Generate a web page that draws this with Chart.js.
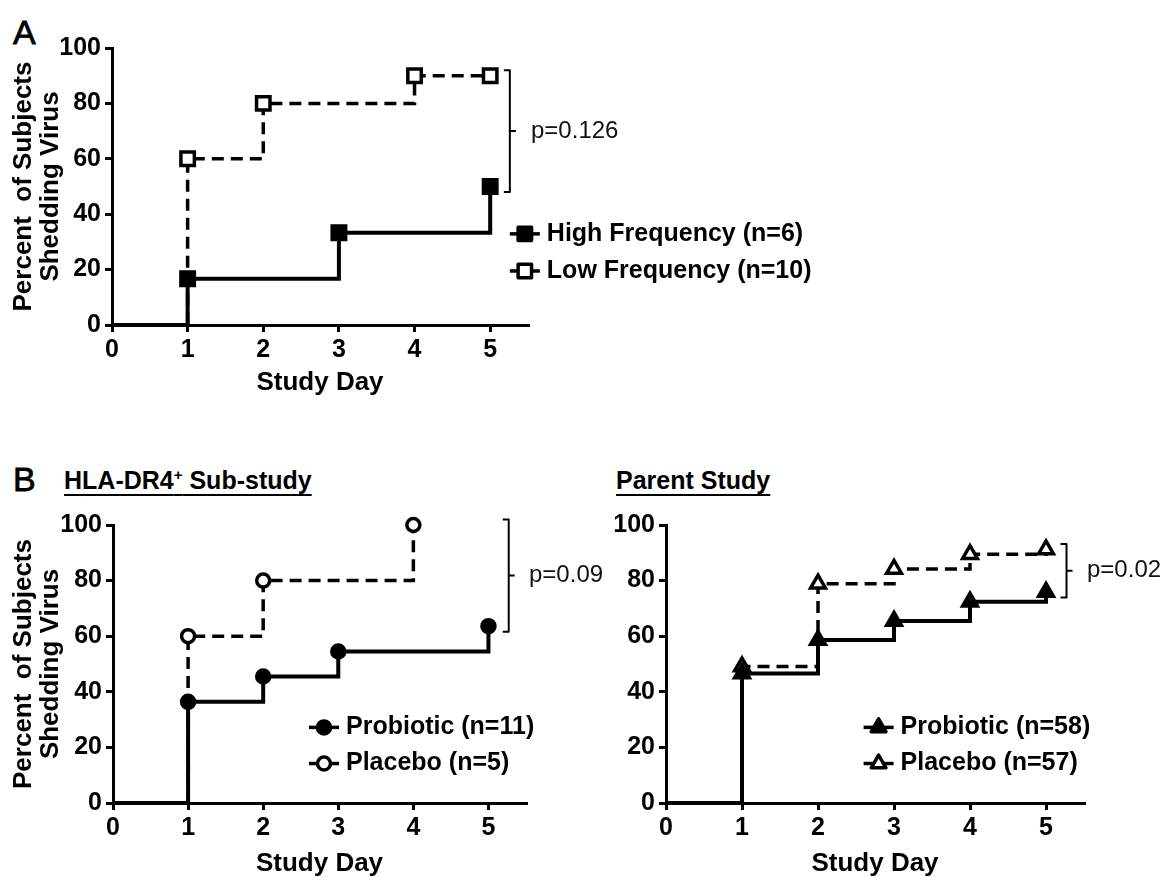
<!DOCTYPE html>
<html>
<head>
<meta charset="utf-8">
<script src="https://cdn.jsdelivr.net/npm/chart.js@4.4.1/dist/chart.umd.min.js"></script>
<style>
    body { margin: 0; background: #fff; width: 1162px; height: 877px; position: relative; overflow: hidden;
        font-family: 'Liberation Sans', Arial, sans-serif; color: #000; }
    canvas { position: absolute; }
    .tag { position: absolute; font-size: 34px; line-height: 1; -webkit-text-stroke: 0.8px #000; }
    .head { position: absolute; font-size: 25px; font-weight: bold; line-height: 1; white-space: nowrap;
        text-decoration: underline; text-decoration-thickness: 2px; text-underline-offset: 5px; }
    .head sup { font-size: 0.6em; line-height: 0; vertical-align: 0.6em; }
</style>
</head>
<body>
<div class="tag" style="left:13px;top:15px">A</div>
<div class="tag" style="left:13px;top:462px">B</div>
<div class="head" style="left:64px;top:468px">HLA-DR4<sup>+</sup> Sub-study</div>
<div class="head" style="left:616px;top:468px">Parent Study</div>

<canvas id="chart_a" width="840" height="420" style="left:0;top:0"></canvas>
<canvas id="chart_sub" width="620" height="437" style="left:0;top:440px"></canvas>
<canvas id="chart_parent" width="582" height="437" style="left:580px;top:440px"></canvas>

<script>
// tick labels
const dayTicks = [0, 1, 2, 3, 4, 5];
const yTitleLines = ['Percent  of Subjects', 'Shedding Virus'];

// Panel A
const aHighDays = [0, 1, 3, 5];
const aHighPct = [0, 16.7, 33.3, 50];
const aLowDays = [0, 1, 2, 4, 5];
const aLowPct = [0, 60, 80, 90, 90];

// Panel B - HLA-DR4+ sub-study
const subProDays = [0, 1, 2, 3, 5];
const subProPct = [0, 36.4, 45.5, 54.5, 63.6];
const subPlaDays = [0, 1, 2, 4];
const subPlaPct = [0, 60, 80, 100];

// Panel B - parent study
const parDays = [0, 1, 2, 3, 4, 5];
const parProPct = [0, 46.6, 58.6, 65.5, 72.4, 75.9];
const parPlaPct = [0, 49.1, 78.9, 84.2, 89.5, 91.2];

const pValues = ['p=0.126', 'p=0.09', 'p=0.02'];

const FONT = "'Liberation Sans', Arial, sans-serif";
Chart.defaults.font.family = FONT;
Chart.defaults.color = '#000';

const toPoints = (days, pct) => days.map((d, i) => ({x: d, y: pct[i]}));

const curve = (label, days, pct, filled, style, r) => ({
    label: label,
    data: toPoints(days, pct),
    stepped: 'before',
    borderColor: '#000',
    borderWidth: filled ? 4 : 3.5,
    borderDash: filled ? [] : [12, 7],
    borderJoinStyle: 'miter',
    pointStyle: style,
    pointRadius: ctx => (ctx.raw && ctx.raw.x === 0) ? 0 : r,
    pointBackgroundColor: filled ? '#000' : '#fff',
    pointBorderColor: '#000',
    pointBorderWidth: 3.5,
    fill: false,
    clip: false
});

const axes = (yWidth, xHeight, xTitlePad, withTitle) => {
    const tickFont = {size: 25, weight: 'bold'};
    const grid = {drawOnChartArea: false, tickLength: 7, lineWidth: 3, color: '#000'};
    const border = {color: '#000', width: 3};
    return {
        x: {
            type: 'linear', min: 0, max: 5.5,
            afterBuildTicks: s => { s.ticks = dayTicks.map(v => ({value: v})); },
            afterFit: s => { s.height = xHeight; },
            grid: grid, border: border,
            ticks: {font: tickFont, color: '#000', padding: 3, maxRotation: 0, autoSkip: false},
            title: {display: true, text: 'Study Day', color: '#000',
                font: {size: 26, weight: 'bold', lineHeight: 1}, padding: {top: 0, bottom: xTitlePad}}
        },
        y: {
            min: 0, max: 100,
            afterFit: s => { s.width = yWidth; },
            grid: grid, border: border,
            ticks: {stepSize: 20, font: tickFont, color: '#000', padding: 4},
            title: {display: withTitle, text: yTitleLines, color: '#000',
                font: {size: 26, weight: 'bold', lineHeight: 1.05}, padding: {top: 10, bottom: 0}}
        }
    };
};

// bracket + p value + legend, placed through the scales
const extras = {
    id: 'extras',
    afterDatasetsDraw(chart, args, o) {
        const {ctx} = chart;
        const x = chart.scales.x, y = chart.scales.y;
        ctx.save();

        const ends = chart.data.datasets.map(ds => ds.data[ds.data.length - 1].y);
        const top = y.getPixelForValue(Math.max(...ends) + 2);
        const bot = y.getPixelForValue(Math.min(...ends) - 2);
        const mid = (top + bot) / 2;
        const bx = x.getPixelForValue(o.bracketAt);
        ctx.strokeStyle = '#000';
        ctx.lineWidth = 2;
        ctx.lineJoin = 'round';
        ctx.setLineDash([]);
        ctx.beginPath();
        ctx.moveTo(bx - 6, top); ctx.lineTo(bx, top); ctx.lineTo(bx, bot); ctx.lineTo(bx - 6, bot);
        ctx.moveTo(bx, mid); ctx.lineTo(bx + 6, mid);
        ctx.stroke();
        ctx.fillStyle = '#111';
        ctx.font = '24px ' + FONT;
        ctx.textAlign = 'left';
        ctx.textBaseline = 'middle';
        ctx.fillText(o.pText, x.getPixelForValue(5.5) + 3, mid);

        const lx = x.getPixelForValue(o.legendAt);
        chart.data.datasets.forEach((ds, i) => {
            const ly = y.getPixelForValue(o.legendRows[i]);
            ctx.strokeStyle = '#000';
            ctx.lineWidth = 3.5;
            ctx.beginPath();
            ctx.moveTo(lx, ly); ctx.lineTo(lx + 30, ly);
            ctx.stroke();
            ctx.fillStyle = ds.pointBackgroundColor;
            ctx.lineWidth = ds.pointBorderWidth;
            Chart.helpers.drawPoint(ctx, {pointStyle: ds.pointStyle, radius: o.markerR,
                borderWidth: ds.pointBorderWidth, rotation: 0}, lx + 15, ly);
            ctx.fillStyle = '#000';
            ctx.font = 'bold 25px ' + FONT;
            ctx.fillText(ds.label, lx + 37, ly);
        });
        ctx.restore();
    }
};

const makeChart = (id, datasets, scales, padding, extraOpts) => new Chart(document.getElementById(id), {
    type: 'line',
    data: {datasets: datasets},
    options: {
        responsive: false,
        animation: false,
        events: [],
        layout: {padding: padding},
        scales: scales,
        plugins: {
            legend: {display: false},
            tooltip: {enabled: false},
            extras: extraOpts
        }
    },
    plugins: [extras]
});

makeChart('chart_a', [
    curve('High Frequency (n=6)', aHighDays, aHighPct, true, 'rect', 9.5),
    curve('Low Frequency (n=10)', aLowDays, aLowPct, false, 'rect', 9.5)
], axes(112, 95, 24, true), {top: 48, right: 312, bottom: 0, left: 0},
    {bracketAt: 5.26, pText: pValues[0], legendAt: 5.26, legendRows: [32.9, 19.5], markerR: 9.5});

makeChart('chart_sub', [
    curve('Probiotic (n=11)', subProDays, subProPct, true, 'circle', 6.5),
    curve('Placebo (n=5)', subPlaDays, subPlaPct, false, 'circle', 6.5)
], axes(113, 74, 0, true), {top: 85, right: 94, bottom: 0, left: 0},
    {bracketAt: 5.27, pText: pValues[1], legendAt: 2.61, legendRows: [27.2, 14.2], markerR: 6.5});

makeChart('chart_parent', [
    curve('Probiotic (n=58)', parDays, parProPct, true, 'triangle', 8.5),
    curve('Placebo (n=57)', parDays, parPlaPct, false, 'triangle', 8.5)
], axes(86, 74, 0, false), {top: 85, right: 78, bottom: 0, left: 0},
    {bracketAt: 5.27, pText: pValues[2], legendAt: 2.6, legendRows: [27.2, 14.2], markerR: 8.5});
</script>
</body>
</html>
